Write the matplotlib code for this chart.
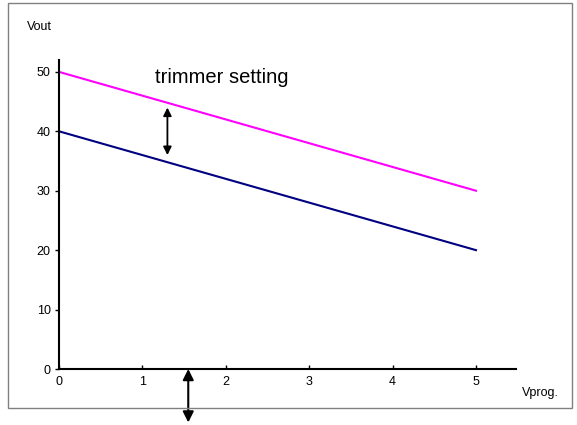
import matplotlib.pyplot as plt
from matplotlib.patches import Rectangle

plt.rcParams['font.family'] = ['Liberation Sans', 'DejaVu Sans']

vprog = [0, 5]
vout_high = [50, 30]
vout_low = [40, 20]
xticks = [0, 1, 2, 3, 4, 5]
yticks = [0, 10, 20, 30, 40, 50]

fig = plt.figure(figsize=(5.77, 4.25), dpi=100)
fig.patches.append(Rectangle((8 / 577, 1 - 408 / 425), 564 / 577, 405 / 425,
                             transform=fig.transFigure, fill=False,
                             edgecolor='#808080', linewidth=1))
ax = fig.add_axes([59 / 577, 1 - 369 / 425, 457 / 577, 309 / 425])

ax.plot(vprog, vout_high, color='#FF00FF', linewidth=1.5)
ax.plot(vprog, vout_low, color='#000080', linewidth=1.5)

ax.set_xlim(0, 5.48)
ax.set_ylim(0, 52)
ax.set_xticks(xticks)
ax.set_yticks(yticks)
ax.tick_params(axis='y', labelsize=9, length=3, width=1, direction='out', pad=3)
ax.tick_params(axis='x', labelsize=9, length=3, width=1, direction='in', pad=5)
for s in ['top', 'right']:
    ax.spines[s].set_visible(False)
for s in ['left', 'bottom']:
    ax.spines[s].set_linewidth(1.5)

# trimmer arrow between the lines
ax.annotate('', xy=(1.3, 44), xytext=(1.3, 36),
            arrowprops=dict(arrowstyle='<|-|>', color='black', lw=1.3,
                            mutation_scale=12, shrinkA=0, shrinkB=0))
ax.text(1.15, 49, 'trimmer setting', fontsize=14.5, va='center')

# arrow at the x axis
ax.annotate('', xy=(1.55, 0), xytext=(1.55, -9.0),
            arrowprops=dict(arrowstyle='<|-|>', color='black', lw=1.5,
                            mutation_scale=16, shrinkA=0, shrinkB=0),
            annotation_clip=False)

fig.text(27 / 577, 1 - 27 / 425, 'Vout', fontsize=9, va='center')
fig.text(522 / 577, 1 - 393 / 425, 'Vprog.', fontsize=9, va='center')

fig.savefig('out.png', dpi=100)
